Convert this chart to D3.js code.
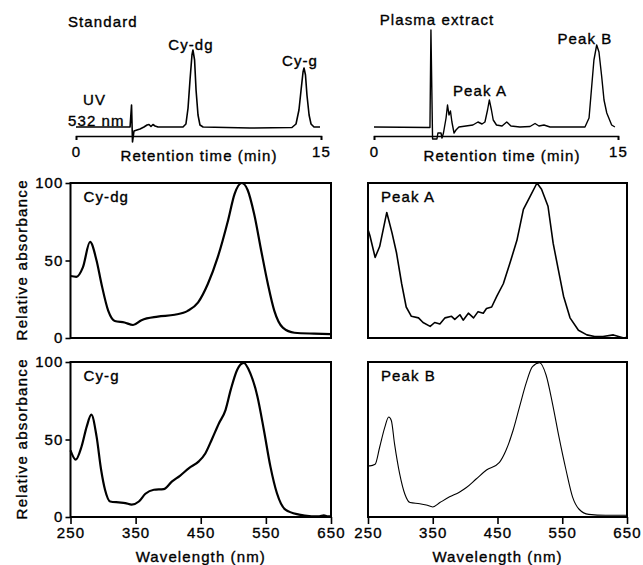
<!DOCTYPE html>
<html><head><meta charset="utf-8">
<script src="https://cdn.jsdelivr.net/npm/d3@7"></script>
<style>
body{margin:0;background:#fff}
text{font-family:"Liberation Sans",Arial,Helvetica,sans-serif;fill:#000;stroke:#000;stroke-width:0.35px;letter-spacing:1.1px}
</style>
</head><body><svg id="c" width="643" height="565"></svg>
<script>
// ---------- DATA ----------
// Chromatogram: Standard (UV 532 nm), time in min, signal in arbitrary units
const stdTime   = [0,3.31,3.40,3.46,3.55,3.73,3.92,4.16,4.35,4.47,4.59,4.71,4.84,5.02,6.55,6.73,6.86,6.98,7.10,7.16,7.26,7.35,7.47,7.59,7.78,10.65,13.22,13.47,13.65,13.78,13.90,13.96,14.05,14.14,14.27,14.39,14.57,14.94];
const stdSignal = [0,0,22,-15,-4,-3,-2,0,2,2.5,0.5,2.5,1,0,0,3,19,47,72,77,67,37,12,2,0,-1,-0.5,3,17,37,55,59,52,32,12,3,0,0];
// Chromatogram: Plasma extract
const plasmaTime   = [0,3.44,3.50,3.60,3.87,3.93,4.12,4.18,4.27,4.43,4.52,4.61,4.70,4.79,4.92,5.04,5.22,5.65,6.08,6.39,6.64,6.82,6.98,7.09,7.22,7.33,7.53,7.87,8.16,8.42,8.97,9.59,9.90,10.14,10.45,10.82,12.97,13.22,13.38,13.52,13.69,13.83,14.00,14.14,14.31,14.61,14.81];
const plasmaSignal = [0,-0.5,97,-12,-12,-6,-6,-11,-6,9,22,12,16,5,-6,-3,0,1,2,5,3,5,17,27,17,7,2,1,5,1,0,0.5,3.5,1,2,0,0,9,40,67,82,75,50,27,14,2,0];
const chromTicks = [0, 15];

// Absorbance spectra (relative absorbance vs wavelength, nm)
const cyDgWavelength = [250,259,269,280,290,297.5,308,318,333,346,359,384,410,430,446,461,476,492,502,513,522,532,543,553,563,576,594,624,650];
const cyDgAbs        = [40,39.5,45.6,62,50,35,17.5,11,10,8.4,11.5,13.8,15,17.5,23,35,52,76,93,100,95.5,80,56,35,17.5,6.7,3.4,2.8,2.5];

const peakAWavelength = [250,253,261,268,279,287,294,302,309,317,328,335,346,353,361,369,379,384,392,397,405,413,420,428,433,441,449,459,469,480,490,500,511,518,528,536,544,552,562,575,588,600,613,629,645,650];
const peakAAbs        = [70,66,52,59,81,68,55,35,20,14,13,10,7.5,10,9,13,14,12,15,11.5,16,13,17,16,19,20,27,35,48,63,83,91,100,96,85,61,44,27,13,5,2,1,1,2,0,0.5];

const cyGWavelength = [250,258,267,275,282,290,297,303,311,324,334,344,355,365,378,393,406,418,432,447,457,467,478,488,496,506,516,526,537,547,557,567,580,601,620,632,639,644,650];
const cyGAbs        = [43,37,45.5,58.5,66,52,30.5,17.6,10,9.4,9,8,10,15,17.6,18,23,26.6,31.6,35.9,41,50,60.5,69,82,95,99.4,92.8,77.8,56,32.5,15.3,4.7,1.5,0.5,0.4,1,0.5,0.5];

const peakBWavelength = [250,253,261,268,276,282,286,291,299,307,315,330,340,350,361,376,391,402,417,433,453,463,474,484,494,504,515,525,535,545,556,566,576,591,617,650];
const peakBAbs        = [33,33,34,45,58,64.5,62.3,47.2,27.7,14.7,9.3,8.6,7.8,6.5,9.3,13,16,19,24.5,30.3,35.3,42.9,55.8,71,86,97,99.5,91.6,73,51.5,30,12.8,5,1.7,1.1,1.1];

const wavelengthTicks = [250, 350, 450, 550, 650];
const absTicks = [0, 50, 100];

// ---------- DRAWING ----------
const svg = d3.select("#c");
const FS = 15;

function txt(x, y, s, anchor) {
  svg.append("text").attr("x", x).attr("y", y).attr("font-size", FS)
     .attr("text-anchor", anchor || "start").text(s);
}

// Chromatograms
function chrom(x0, x1, times, sig, sw) {
  const xs = d3.scaleLinear().domain([0, 15]).range([x0, x1]);
  const ys = d3.scaleLinear().domain([-9, 100]).range([136, 27]);
  const ax = d3.axisBottom(xs).tickValues(chromTicks).tickSizeInner(4).tickSizeOuter(4).tickPadding(6).tickFormat(d3.format("d"));
  const g = svg.append("g").attr("transform", `translate(0,${ys(-9)})`).call(ax);
  g.select(".domain").attr("stroke", "#000").attr("stroke-width", 1.6);
  g.selectAll(".tick line").attr("stroke", "#000").attr("stroke-width", 1.6);
  g.selectAll(".tick text").attr("font-size", FS).attr("font-family", null).attr("fill", "#000");
  const line = d3.line().x((d, i) => xs(times[i])).y(d => ys(d));
  svg.append("path").datum(sig).attr("d", line).attr("fill", "none")
     .attr("stroke", "#000").attr("stroke-width", sw).attr("stroke-linejoin", "round");
  return {xs, ys};
}
chrom(76, 321, stdTime, stdSignal, 1.6);
chrom(374, 618, plasmaTime, plasmaSignal, 1.4);

txt(68, 27, "Standard");
txt(191, 50, "Cy-dg", "middle");
txt(300, 66, "Cy-g", "middle");
txt(83, 105, "UV");
txt(68, 126, "532 nm");
txt(199, 161, "Retention time (min)", "middle");
txt(437, 25, "Plasma extract", "middle");
txt(480, 96, "Peak A", "middle");
txt(585, 44, "Peak B", "middle");
txt(502, 161, "Retention time (min)", "middle");

// Spectra panels
const cols = [[70.5, 331], [368, 627]];
const rows = [[183, 338], [362, 517]];
const panels = [
  {c: 0, r: 0, wl: cyDgWavelength, ab: cyDgAbs, label: "Cy-dg", sw: 2.2, yAxis: true, xAxis: false},
  {c: 1, r: 0, wl: peakAWavelength, ab: peakAAbs, label: "Peak A", sw: 1.6, yAxis: false, xAxis: false},
  {c: 0, r: 1, wl: cyGWavelength, ab: cyGAbs, label: "Cy-g", sw: 2.2, yAxis: true, xAxis: true},
  {c: 1, r: 1, wl: peakBWavelength, ab: peakBAbs, label: "Peak B", sw: 1.1, yAxis: false, xAxis: true}
];

panels.forEach(p => {
  const [x0, x1] = cols[p.c];
  const [y0, y1] = rows[p.r];
  const xs = d3.scaleLinear().domain([250, 650]).range([x0, x1]);
  const ys = d3.scaleLinear().domain([0, 100]).range([y1, y0]);
  if (p.yAxis) {
    const g = svg.append("g").attr("transform", `translate(${x0},0)`)
      .call(d3.axisLeft(ys).tickValues(absTicks).tickSize(5).tickPadding(2));
    g.select(".domain").remove();
    g.selectAll(".tick line").attr("stroke", "#000").attr("stroke-width", 1.6);
    g.selectAll(".tick text").attr("font-size", FS).attr("font-family", null).attr("fill", "#000");
  }
  if (p.xAxis) {
    const g = svg.append("g").attr("transform", `translate(0,${y1})`)
      .call(d3.axisBottom(xs).tickValues(wavelengthTicks).tickSize(7).tickPadding(3));
    g.select(".domain").remove();
    g.selectAll(".tick line").attr("stroke", "#000").attr("stroke-width", 1.6);
    g.selectAll(".tick text").attr("font-size", FS).attr("font-family", null).attr("fill", "#000");
    svg.append("text").attr("x", (x0 + x1) / 2).attr("y", 562).attr("font-size", FS)
       .attr("text-anchor", "middle").text("Wavelength (nm)");
  }
  svg.append("rect").attr("x", x0).attr("y", y0).attr("width", x1 - x0).attr("height", y1 - y0)
     .attr("fill", "none").attr("stroke", "#000").attr("stroke-width", 2);
  const line = d3.line().x((d, i) => xs(p.wl[i])).y(d => ys(d))
     .curve(p.label === "Peak A" ? d3.curveLinear : d3.curveMonotoneX);
  svg.append("path").datum(p.ab).attr("d", line).attr("fill", "none")
     .attr("stroke", "#000").attr("stroke-width", p.sw).attr("stroke-linejoin", "round");
  svg.append("text").attr("x", x0 + 13).attr("y", y0 + 19).attr("font-size", FS).text(p.label);
  if (p.c === 0) {
    svg.append("text").attr("font-size", FS)
      .attr("transform", `translate(27,${(y0 + y1) / 2}) rotate(-90)`)
      .attr("text-anchor", "middle").attr("textLength", 160).attr("lengthAdjust", "spacing")
      .style("letter-spacing", "0px")
      .text("Relative absorbance");
  }
});
</script>
</body></html>
